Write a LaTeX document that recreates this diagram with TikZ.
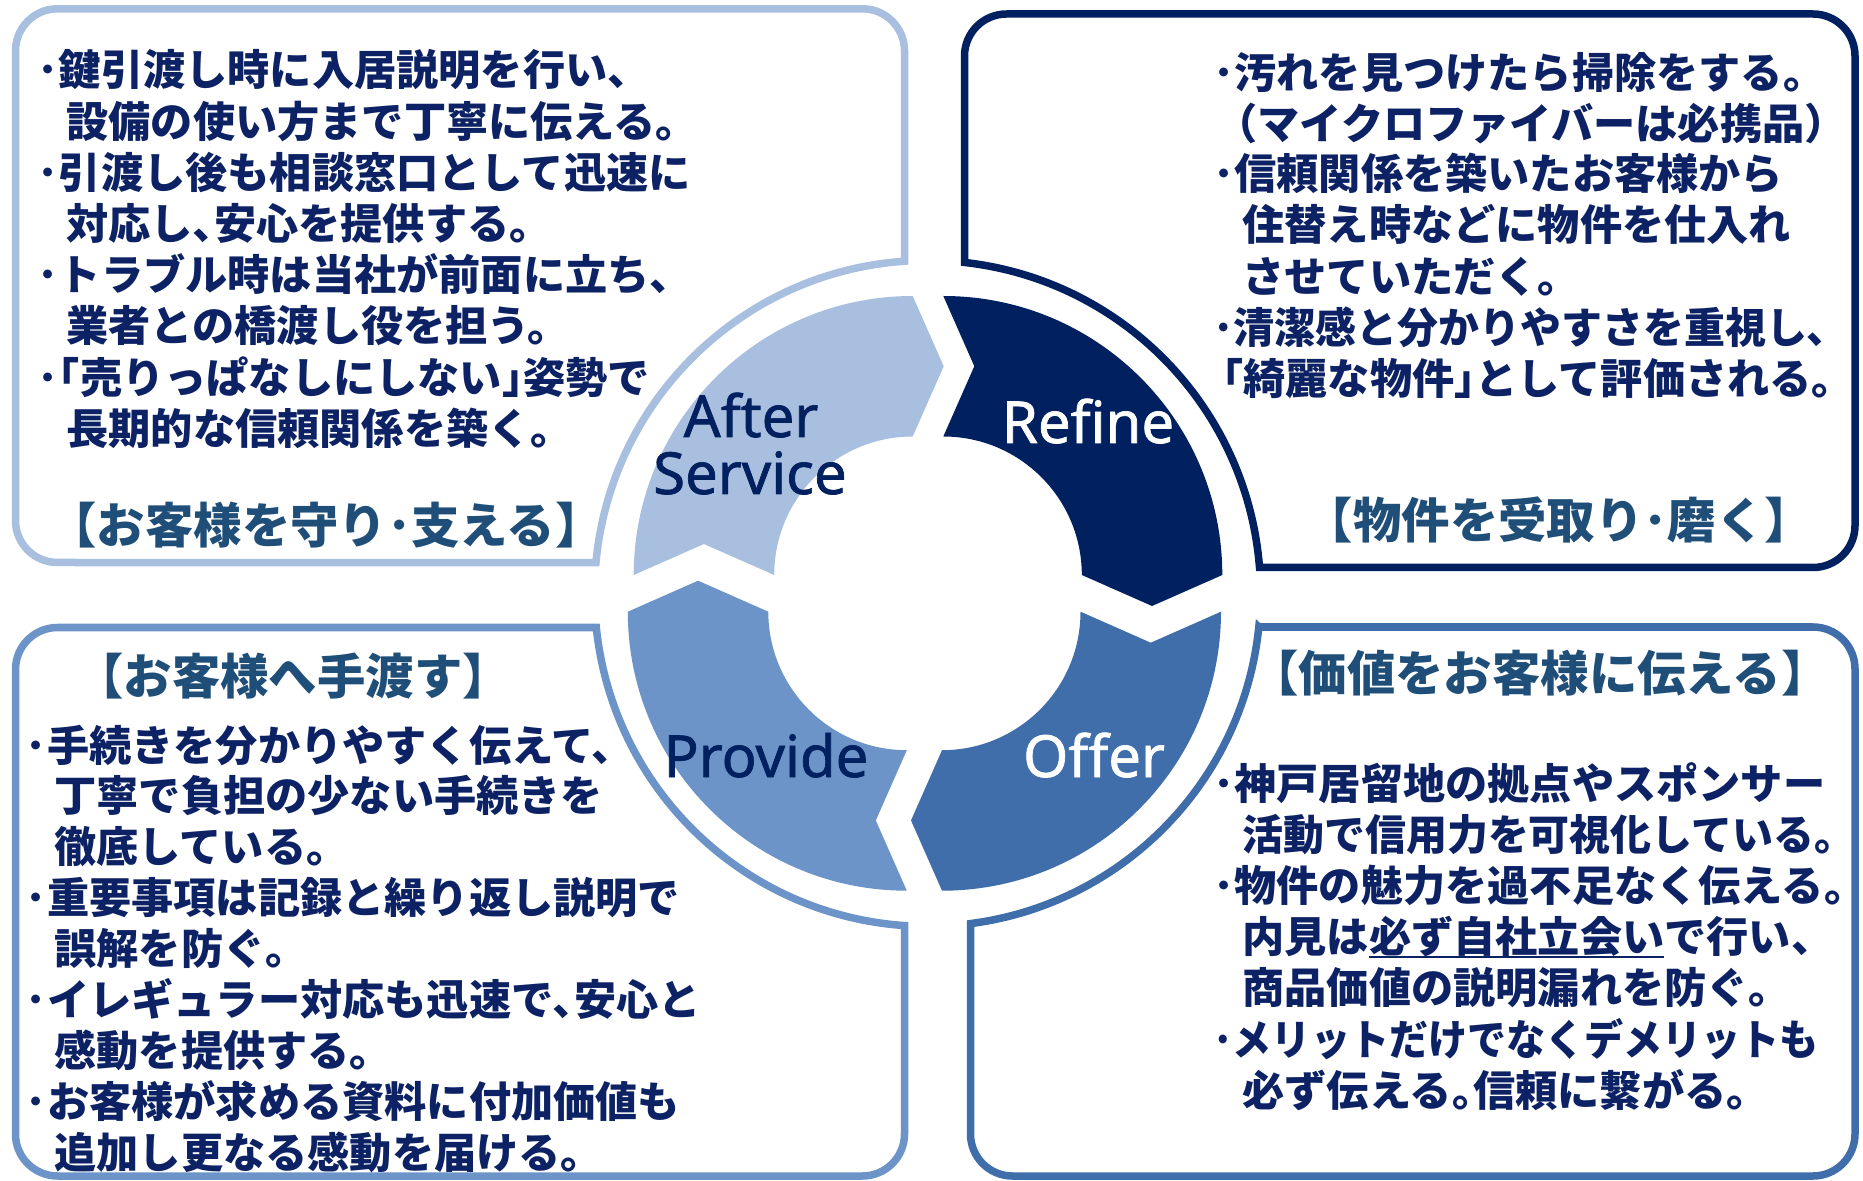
\documentclass[tikz,border=0pt]{standalone}
\usepackage{graphicx}
\usepackage{fontspec}
\newfontfamily\jpf{Noto Sans CJK JP}
\newfontfamily\lbl{Noto Sans}[FakeBold=1.2]
\definecolor{asC}{HTML}{A8BFDF}
\definecolor{rfC}{HTML}{002060}
\definecolor{ofC}{HTML}{406EAA}
\definecolor{pvC}{HTML}{6C94C8}
\definecolor{txt}{HTML}{0C2264}
\definecolor{hdr}{HTML}{1F4E79}
\newcommand\myul[1]{\setbox0\hbox{#1}\rlap{\rule[-0.15em]{\wd0}{1.1pt}}\box0}
\newcommand\halfp[1]{\makebox[0.5em][l]{#1}}
\newcommand\ringseg[4]{%
  \begin{scope}[shift={(#1,#2)}]
    \pgfmathsetmacro\sa{#3}\pgfmathsetmacro\sb{#3+90}\pgfmathsetmacro\sc{#3+180}
    \pgfmathsetmacro\nx{208.75*cos(\sa)+31*cos(\sb)}\pgfmathsetmacro\ny{208.75*sin(\sa)+31*sin(\sb)}
    \pgfmathsetmacro\tx{208.75*cos(\sb)+31*cos(\sc)}\pgfmathsetmacro\ty{208.75*sin(\sb)+31*sin(\sc)}
    \fill[#4] (\sa:279) -- (\nx,\ny) -- (\sa:138.5)
      arc[start angle=\sa, end angle=\sb, radius=138.5]
      -- (\tx,\ty) -- (\sb:279)
      arc[start angle=\sb, end angle=\sa, radius=279] -- cycle;
  \end{scope}}
\tikzset{
  body/.style={anchor=base west, inner sep=0pt, text=txt, font=\jpf\bfseries\fontsize{21.1pt}{25pt}\selectfont},
  head/.style={anchor=base, inner sep=0pt, text=hdr, font=\jpf\bfseries\fontsize{24.2pt}{28pt}\selectfont},
  lab/.style={anchor=base, inner sep=0pt, font=\lbl\fontsize{29pt}{35pt}\selectfont},
  frame/.style={line width=3.75pt, fill=white, line join=miter},
}
\begin{document}
\begin{tikzpicture}[x=0.5pt, y=-0.5pt]
\useasboundingbox (0,0) rectangle (1863,1181);
\fill[white] (0,0) rectangle (1863,1181);
% boxes
\draw[frame, draw=asC] (57.5,8.8) -- (862.5,8.8) arc[start angle=-90, end angle=0, radius=42]
  -- (904.5,261.2) arc[start angle=266.04, end angle=185.32, radius=333]
  -- (57.5,562.5) arc[start angle=90, end angle=180, radius=42]
  -- (15.5,50.8) arc[start angle=180, end angle=270, radius=42] -- cycle;
\draw[frame, draw=rfC] (1006.5,14) -- (1813,14) arc[start angle=-90, end angle=0, radius=42]
  -- (1855,525.5) arc[start angle=0, end angle=90, radius=42]
  -- (1259.5,567.5) arc[start angle=355.54, end angle=276.38, radius=333]
  -- (964.5,56) arc[start angle=180, end angle=270, radius=42] -- cycle;
\draw[frame, draw=pvC] (57.5,627.5) -- (596.3,627.5) arc[start angle=174.12, end angle=93.96, radius=333]
  -- (904.5,1134) arc[start angle=0, end angle=90, radius=42]
  -- (57.5,1176) arc[start angle=90, end angle=180, radius=42]
  -- (15.5,669.5) arc[start angle=180, end angle=270, radius=42] -- cycle;
\draw[frame, draw=ofC] (1258.8,627) -- (1813,627) arc[start angle=-90, end angle=0, radius=42]
  -- (1855,1134) arc[start angle=0, end angle=90, radius=42]
  -- (1012.5,1176) arc[start angle=90, end angle=180, radius=42]
  -- (970.5,923.6) arc[start angle=82.58, end angle=5.79, radius=333] -- cycle;
% ring
\ringseg{912.7}{575}{180}{asC}
\ringseg{943.3}{575}{270}{rfC}
\ringseg{942}{611.7}{0}{ofC}
\ringseg{906.8}{611.7}{90}{pvC}
% ring labels
\node[lab, text=rfC] (as1) at (751,437) {After};
\node[lab, text=rfC] (as2) at (750,494) {Service};
\node[lab, text=white] (rf) at (1088,443) {Refine};
\node[lab, text=white] (of) at (1094,777) {Offer};
\node[lab, text=rfC] (pv) at (766,777) {Provide};
% top-left
\node[body] (tl1) at (37.4,86) {･鍵引渡し時に入居説明を行い、};
\node[body] (tl2) at (66,137.3) {設備の使い方まで丁寧に伝える。};
\node[body] (tl3) at (37.4,188.6) {･引渡し後も相談窓口として迅速に};
\node[body] (tl4) at (66,240) {対応し､安心を提供する。};
\node[body] (tl5) at (37.4,291) {･トラブル時は当社が前面に立ち、};
\node[body] (tl6) at (66,342) {業者との橋渡し役を担う。};
\node[body] (tl7) at (37.4,393.6) {･｢売りっぱなしにしない｣姿勢で};
\node[body] (tl8) at (66,445) {長期的な信頼関係を築く。};
\node[head] (tlh) at (326,544) {【お客様を守り･支える】};
% top-right
\node[body] (tr1) at (1213,89) {･汚れを見つけたら掃除をする。};
\node[body] (tr2) at (1215,139.5) {（マイクロファイバーは必携品）};
\node[body] (tr3) at (1213,190) {･信頼関係を築いたお客様から};
\node[body] (tr4) at (1242,241) {住替え時などに物件を仕入れ};
\node[body] (tr5) at (1242,293) {させていただく。};
\node[body] (tr6) at (1213,344) {\scalebox{0.97}[1]{･清潔感と分かりやすさを重視し\halfp{、}}};
\node[body] (tr7) at (1222,395) {｢綺麗な物件｣として評価される\halfp{。}};
\node[head] (trh) at (1559,539) {【物件を受取り･磨く】};
% bottom-left
\node[head] (blh) at (293,694) {【お客様へ手渡す】};
\node[body] (bl1) at (25.5,761) {･手続きを分かりやすく伝えて、};
\node[body] (bl2) at (54,811) {丁寧で負担の少ない手続きを};
\node[body] (bl3) at (54,862) {徹底している。};
\node[body] (bl4) at (25.5,913) {･重要事項は記録と繰り返し説明で};
\node[body] (bl5) at (54,964) {誤解を防ぐ。};
\node[body] (bl6) at (25.5,1015) {･イレギュラー対応も迅速で､安心と};
\node[body] (bl7) at (54,1066) {感動を提供する。};
\node[body] (bl8) at (25.5,1117) {･お客様が求める資料に付加価値も};
\node[body] (bl9) at (54,1168) {追加し更なる感動を届ける。};
% bottom-right
\node[head] (brh) at (1540,691) {【価値をお客様に伝える】};
\node[body] (br1) at (1213,799) {･神戸居留地の拠点やスポンサー};
\node[body] (br2) at (1242,850) {\scalebox{0.97}[1]{活動で信用力を可視化している\halfp{。}}};
\node[body] (br3) at (1213,901) {･物件の魅力を過不足なく伝える\halfp{。}};
\node[body] (br4) at (1242,952) {内見は\myul{必ず自社立会い}で行い、};
\node[body] (br5) at (1242,1003) {商品価値の説明漏れを防ぐ。};
\node[body] (br6) at (1213,1055) {\scalebox{0.925}[1]{･メリットだけでなくデメリットも}};
\node[body] (br7) at (1242,1106) {必ず伝える｡信頼に繋がる。};
\end{tikzpicture}
\end{document}
